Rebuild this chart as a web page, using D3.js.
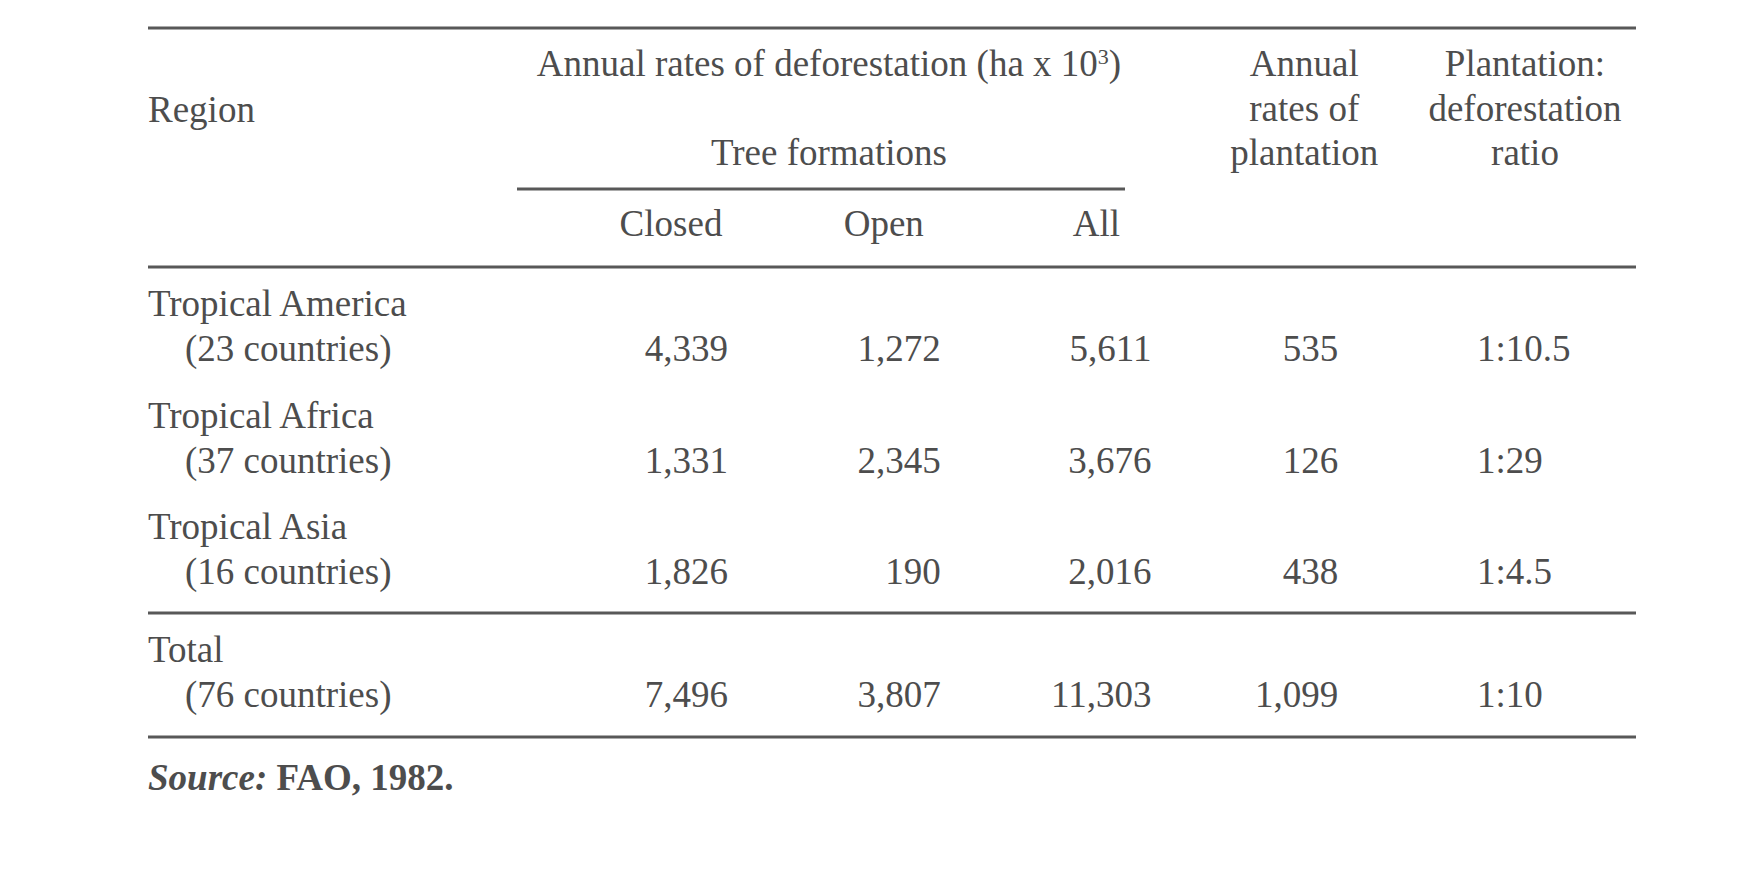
<!DOCTYPE html>
<html>
<head>
<meta charset="utf-8">
<script src="https://cdn.jsdelivr.net/npm/d3@7"></script>
<style>
  body { margin: 0; background: #fff; }
  svg text { font-family: "Liberation Serif", "Times New Roman", serif; font-size: 37px; fill: #4d4d4d; }
</style>
</head>
<body>
<svg id="table"></svg>
<script>
// table data
const regions = ["Tropical America", "Tropical Africa", "Tropical Asia"];
const countries = [23, 37, 16];
const closed = [4339, 1331, 1826];
const open = [1272, 2345, 190];
const all = [5611, 3676, 2016];
const plantation = [535, 126, 438];
const ratio = ["1:10.5", "1:29", "1:4.5"];

const totalLabel = "Total";
const totalCountries = 76;
const totalValues = [7496, 3807, 11303, 1099, "1:10"];

const columns = ["Closed", "Open", "All", "plantation", "ratio"];

const width = 1751,
  height = 870;
const ink = "#585858";

const svg = d3.select("svg#table").attr("width", width).attr("height", height);

const fmt = d3.format(",");

// column centres
const x = d3.scalePoint().domain(columns).range([671, 1522]);
// row baselines (first line of each region)
const y = d3.scalePoint().domain(regions).range([316, 539]);
const lineGap = 45;
const left = 148,
  right = 1636,
  indent = 37;

// cell alignment relative to column centre
const align = {
  Closed: { anchor: "end", dx: 57 },
  Open: { anchor: "end", dx: 57 },
  All: { anchor: "end", dx: 55 },
  plantation: { anchor: "end", dx: 29 },
  ratio: { anchor: "start", dx: -45 },
};

// rules
const rules = [
  { y: 28, x1: left, x2: right },
  { y: 189, x1: 517, x2: 1125 },
  { y: 267, x1: left, x2: right },
  { y: 613, x1: left, x2: right },
  { y: 737, x1: left, x2: right },
];
svg
  .append("g")
  .selectAll("line")
  .data(rules)
  .join("line")
  .attr("x1", (d) => d.x1)
  .attr("x2", (d) => d.x2)
  .attr("y1", (d) => d.y)
  .attr("y2", (d) => d.y)
  .attr("stroke", ink)
  .attr("stroke-width", 3);

// header
const head = svg.append("g");
head.append("text").attr("x", left).attr("y", 122).text("Region");

const groupMid = (517 + 1125) / 2 + 8;
const title = head
  .append("text")
  .attr("x", groupMid)
  .attr("y", 76)
  .attr("text-anchor", "middle");
title.append("tspan").text("Annual rates of deforestation (ha x 10");
title.append("tspan").text("3").attr("font-size", "22px").attr("dy", -12);
title.append("tspan").text(")").attr("dy", 12);

head
  .append("text")
  .attr("x", groupMid)
  .attr("y", 165)
  .attr("text-anchor", "middle")
  .text("Tree formations");

head
  .selectAll("text.sub")
  .data(columns.slice(0, 3))
  .join("text")
  .attr("class", "sub")
  .attr("x", (d) => x(d))
  .attr("y", 236)
  .attr("text-anchor", "middle")
  .text((d) => d);

const stacked = [
  { col: "plantation", dx: -5, lines: ["Annual", "rates of", "plantation"] },
  { col: "ratio", dx: 3, lines: ["Plantation:", "deforestation", "ratio"] },
];
stacked.forEach(({ col, dx, lines }) => {
  head
    .selectAll(null)
    .data(lines)
    .join("text")
    .attr("x", x(col) + dx)
    .attr("y", (d, i) => 76 + i * 44.5)
    .attr("text-anchor", "middle")
    .text((d) => d);
});

// body rows
const rows = regions.map((name, i) => ({
  name,
  countries: countries[i],
  values: [fmt(closed[i]), fmt(open[i]), fmt(all[i]), fmt(plantation[i]), ratio[i]],
  y: y(name),
}));
rows.push({
  name: totalLabel,
  countries: totalCountries,
  values: totalValues.map((v) => (typeof v === "number" ? fmt(v) : v)),
  y: 662,
});

const rowG = svg
  .append("g")
  .selectAll("g")
  .data(rows)
  .join("g")
  .attr("transform", (d) => `translate(0,${d.y})`);

rowG.append("text").attr("x", left).text((d) => d.name);
rowG
  .append("text")
  .attr("x", left + indent)
  .attr("y", lineGap)
  .text((d) => `(${d.countries} countries)`);

rowG
  .selectAll("text.val")
  .data((d) => d.values.map((v, j) => ({ v, col: columns[j] })))
  .join("text")
  .attr("class", "val")
  .attr("x", (d) => x(d.col) + align[d.col].dx)
  .attr("y", lineGap)
  .attr("text-anchor", (d) => align[d.col].anchor)
  .text((d) => d.v);

// source note
const src = svg.append("text").attr("x", left).attr("y", 790);
src
  .append("tspan")
  .text("Source:")
  .attr("font-style", "italic")
  .attr("font-weight", "bold");
src.append("tspan").text(" FAO, 1982.").attr("font-weight", "bold");
</script>
</body>
</html>
